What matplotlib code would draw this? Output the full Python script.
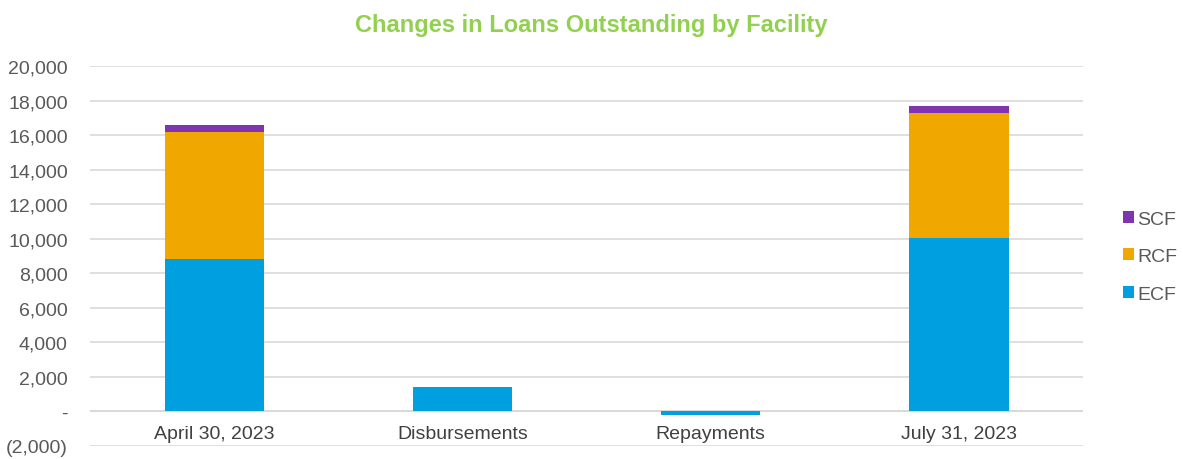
import matplotlib.pyplot as plt
from matplotlib.ticker import FuncFormatter
import numpy as np

plt.rcParams['font.family'] = ['Liberation Sans', 'DejaVu Sans']

categories = ["April 30, 2023", "Disbursements", "Repayments", "July 31, 2023"]
ecf = [8850, 1390, -220, 10040]
rcf = [7330, 0, 0, 7240]
scf = [390, 0, 0, 405]

colors = {"ECF": "#009FDF", "RCF": "#F0A800", "SCF": "#7F35B2"}
grid_col = "#D9D9D9"
text_col = "#595959"

fig = plt.figure(figsize=(11.83, 4.6), dpi=100)
ax = fig.add_axes([0.0761, 0.0283, 0.8394, 0.826])

x = np.arange(len(categories))
w = 0.4
ax.bar(x, ecf, w, color=colors["ECF"], label="ECF", zorder=3)
ax.bar(x, rcf, w, bottom=ecf, color=colors["RCF"], label="RCF", zorder=3)
bot2 = np.array(ecf) + np.array(rcf)
ax.bar(x, scf, w, bottom=bot2, color=colors["SCF"], label="SCF", zorder=3)

ax.set_xlim(-0.5, 3.5)
ax.set_ylim(-2000, 20000)
ax.set_yticks(np.arange(-2000, 20001, 2000))


def fmt(v, pos):
    if v == 0:
        return "-"
    if v < 0:
        return "({:,.0f})".format(-v)
    return "{:,.0f}".format(v)


ax.yaxis.set_major_formatter(FuncFormatter(fmt))
ax.grid(axis="y", color=grid_col, lw=1.2, zorder=0)
ax.axhline(0, color=grid_col, lw=1.5, zorder=2)
for s in ax.spines.values():
    s.set_visible(False)
ax.tick_params(axis="y", length=0, labelsize=14, labelcolor=text_col, pad=16)
ax.set_xticks([])

for xi, lab in zip(x, categories):
    ax.annotate(lab, (xi, 0), xytext=(0, -9.5), textcoords="offset points",
                ha="center", va="top", fontsize=14, color="#404040")

fig.suptitle("Changes in Loans Outstanding by Facility", x=0.5, y=0.97,
             fontsize=17, fontweight="bold", color="#92D050")

h, l = ax.get_legend_handles_labels()
fig.legend(h[::-1], l[::-1], loc="center left", bbox_to_anchor=(0.9425, 0.44),
           frameon=False, fontsize=14, handlelength=0.6, handleheight=0.6,
           labelspacing=1.05, handletextpad=0.15, borderpad=0.2,
           borderaxespad=0.2, labelcolor=text_col)

fig.savefig("out.png", dpi=100)
plt.close()
